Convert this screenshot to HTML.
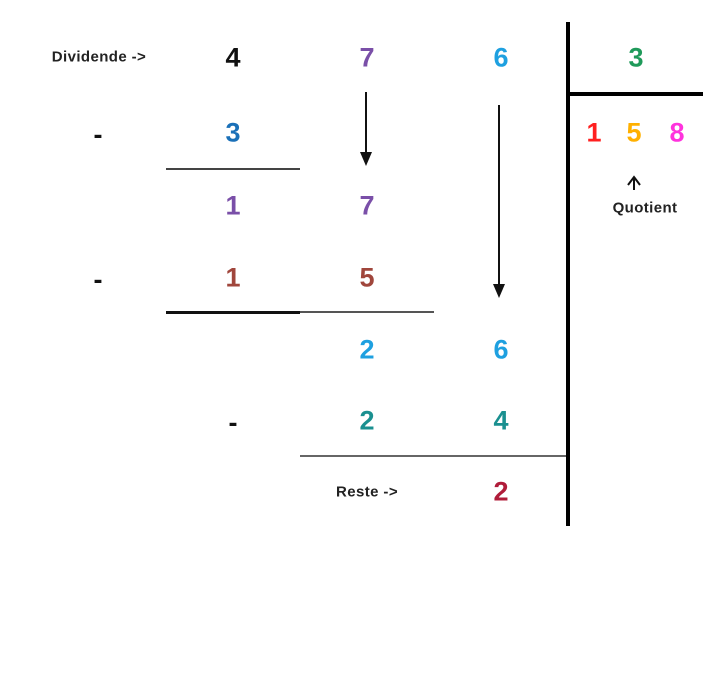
<!DOCTYPE html>
<html><head><meta charset="utf-8"><style>
body{margin:0;width:721px;height:673px;background:#fff;position:relative;overflow:hidden;font-family:"Liberation Sans",sans-serif}
.d{position:absolute;font-size:27px;font-weight:bold;transform:translate(-50%,-50%);line-height:1}
.t{position:absolute;font-size:15px;letter-spacing:0.4px;font-weight:bold;color:#222;transform:translate(-50%,-50%);white-space:nowrap}
.l{position:absolute}
</style></head><body>
<div class="t" style="left:99px;top:57px">Dividende -&gt;</div>
<div class="d" style="left:233px;top:58px;color:#111">4</div>
<div class="d" style="left:367px;top:58px;color:#7a4fa8">7</div>
<div class="d" style="left:501px;top:58px;color:#1ea0e0">6</div>
<div class="d" style="left:636px;top:58px;color:#1f9a5a">3</div>

<div class="d" style="left:98px;top:135px;color:#111">-</div>
<div class="d" style="left:233px;top:133px;color:#1a70b8">3</div>
<div class="l" style="left:166px;top:168px;width:134px;height:2px;background:#444"></div>
<div class="d" style="left:233px;top:206px;color:#7a4fa8">1</div>
<div class="d" style="left:367px;top:206px;color:#7a4fa8">7</div>
<div class="d" style="left:98px;top:280px;color:#111">-</div>
<div class="d" style="left:233px;top:278px;color:#a0463c">1</div>
<div class="d" style="left:367px;top:278px;color:#a0463c">5</div>
<div class="l" style="left:166px;top:311px;width:134px;height:3px;background:#111"></div>
<div class="l" style="left:300px;top:311px;width:134px;height:2px;background:#555"></div>
<div class="d" style="left:367px;top:350px;color:#1ea0e0">2</div>
<div class="d" style="left:501px;top:350px;color:#1ea0e0">6</div>
<div class="d" style="left:233px;top:423px;color:#111">-</div>
<div class="d" style="left:367px;top:421px;color:#1a9090">2</div>
<div class="d" style="left:501px;top:421px;color:#1a9090">4</div>
<div class="l" style="left:300px;top:455px;width:268px;height:2px;background:#666"></div>
<div class="t" style="left:367px;top:492px">Reste -&gt;</div>
<div class="d" style="left:501px;top:492px;color:#b01c3a">2</div>

<div class="l" style="left:566px;top:22px;width:4px;height:504px;background:#000"></div>
<div class="l" style="left:568px;top:92px;width:135px;height:4px;background:#000"></div>
<div class="d" style="left:594px;top:133px;color:#ff2020">1</div>
<div class="d" style="left:634px;top:133px;color:#ffb000">5</div>
<div class="d" style="left:677px;top:133px;color:#ff33dd">8</div>
<svg class="l" style="left:0;top:0" width="721" height="673">
<line x1="366" y1="92" x2="366" y2="155" stroke="#111" stroke-width="2"/>
<polygon points="360,152 372,152 366,166" fill="#111"/>
<line x1="499" y1="105" x2="499" y2="287" stroke="#111" stroke-width="2"/>
<polygon points="493,284 505,284 499,298" fill="#111"/>
<polyline points="628,185 634,177 640,185" fill="none" stroke="#111" stroke-width="2"/>
<line x1="634" y1="177" x2="634" y2="190" stroke="#111" stroke-width="2"/>
</svg>
<div class="t" style="left:645px;top:208px">Quotient</div>
</body></html>
